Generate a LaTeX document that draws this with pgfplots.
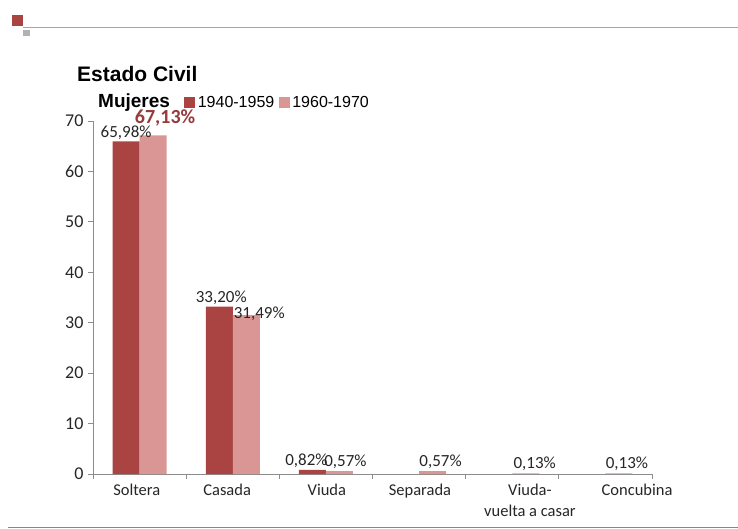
\documentclass[border=0pt]{standalone}
\usepackage{pgfplots}
\pgfplotsset{compat=1.18}
\usepackage{pgfplotstable}
\usepackage{fontspec}
\setmainfont{Carlito}
\newfontfamily\arial{Liberation Sans}
\definecolor{darkbar}{RGB}{169,68,66}
\definecolor{lightbar}{RGB}{217,150,148}
\definecolor{labred}{RGB}{150,58,58}
\definecolor{axgray}{RGB}{140,140,140}
\definecolor{botline}{RGB}{185,115,110}

\pgfplotstableread{
x y dx dy bold
0 65.98 0 -1 0
1 33.20 2 0 0
2 0.82 -6 0 0
}\darktab
\pgfplotstableread{
x y dx dy bold
0 67.13 12 7 1
1 31.49 13 -8 0
2 0.57 6 0 0
3 0.57 8 0 0
4 0.13 9 0 0
5 0.13 8 0 0
}\lighttab

\begin{document}
\begin{tikzpicture}
\useasboundingbox (0,0) rectangle (738bp,-529bp);
% slide decorations
\fill[darkbar] (12bp,-15bp) rectangle (23bp,-26bp);
\fill[gray!60] (23bp,-30bp) rectangle (30bp,-36bp);
\draw[gray!70, line width=1bp] (23bp,-27bp) -- (738bp,-27bp);
\draw[botline, line width=1.5bp] (8bp,-527.5bp) -- (738bp,-527.5bp);
% titles
\node[anchor=west, inner sep=0pt, font=\arial\bfseries\fontsize{21bp}{24bp}\selectfont] at (77bp,-74bp) {Estado Civil};
\node[anchor=west, inner sep=0pt, font=\arial\bfseries\fontsize{19bp}{22bp}\selectfont] at (98bp,-103bp) {Mujeres};
\begin{axis}[
  at={(93bp,-474bp)}, anchor=south west,
  scale only axis, width=559bp, height=353bp,
  xmin=-0.5, xmax=5.5, ymin=0, ymax=70,
  axis x line*=bottom, axis y line*=left,
  axis line style={axgray, line width=0.8bp},
  every tick/.style={axgray, line width=0.8bp},
  tick align=outside,
  major tick length=5bp, minor tick length=5bp,
  ytick={0,10,...,70},
  xtick={-0.03,0.94,2.01,3.01,4.19,5.34},
  xticklabels={Soltera,Casada,Viuda,Separada,{Viuda-\\vuelta a casar},Concubina},
  major x tick style={draw=none},
  minor xtick={-0.5,0.5,...,5.5},
  x tick label style={align=center, font=\fontsize{16.5bp}{21bp}\selectfont, text=black!85, yshift=-2bp},
  y tick label style={font=\fontsize{18bp}{20bp}\selectfont, text=black!85, xshift=-1bp},
  /pgf/number format/assume math mode=true,
  ybar=0pt, bar width=27bp,
  legend style={draw=none, fill=none, at={(0.163,1.052)}, anchor=west, inner sep=0pt,
    legend columns=-1,
    nodes={inner sep=2.5bp},
    font=\arial\fontsize{16bp}{18bp}\selectfont,
    /tikz/every even column/.append style={column sep=2bp}},
  legend image code/.code={\fill[#1] (0bp,-5.5bp) rectangle (11bp,5.5bp);},
  clip=false,
]
\addplot+[draw=none, fill=darkbar,
  visualization depends on={\thisrow{dx} \as \labdx},
  visualization depends on={\thisrow{dy} \as \labdy},
  nodes near coords={\pgfmathprintnumber[fixed,fixed zerofill,precision=2,use comma]{\pgfplotspointmeta}\%},
  nodes near coords style={font=\fontsize{17bp}{19bp}\selectfont, text=black!85, xshift=\labdx bp, yshift=\labdy bp, inner sep=2bp},
] table[x=x,y=y] {\darktab};
\addlegendentry{1940-1959}
\addplot+[draw=none, fill=lightbar,
  visualization depends on={\thisrow{dx} \as \labdx},
  visualization depends on={\thisrow{dy} \as \labdy},
  visualization depends on={\thisrow{bold} \as \labbold},
  nodes near coords={\ifdim\labbold pt>0.5pt \color{labred}\bfseries\fontsize{20bp}{22bp}\selectfont\fi\pgfmathprintnumber[fixed,fixed zerofill,precision=2,use comma]{\pgfplotspointmeta}\%},
  nodes near coords style={font=\fontsize{17bp}{19bp}\selectfont, text=black!85, xshift=\labdx bp, yshift=\labdy bp, inner sep=2bp},
] table[x=x,y=y] {\lighttab};
\addlegendentry{1960-1970}
\end{axis}
\end{tikzpicture}
\end{document}
